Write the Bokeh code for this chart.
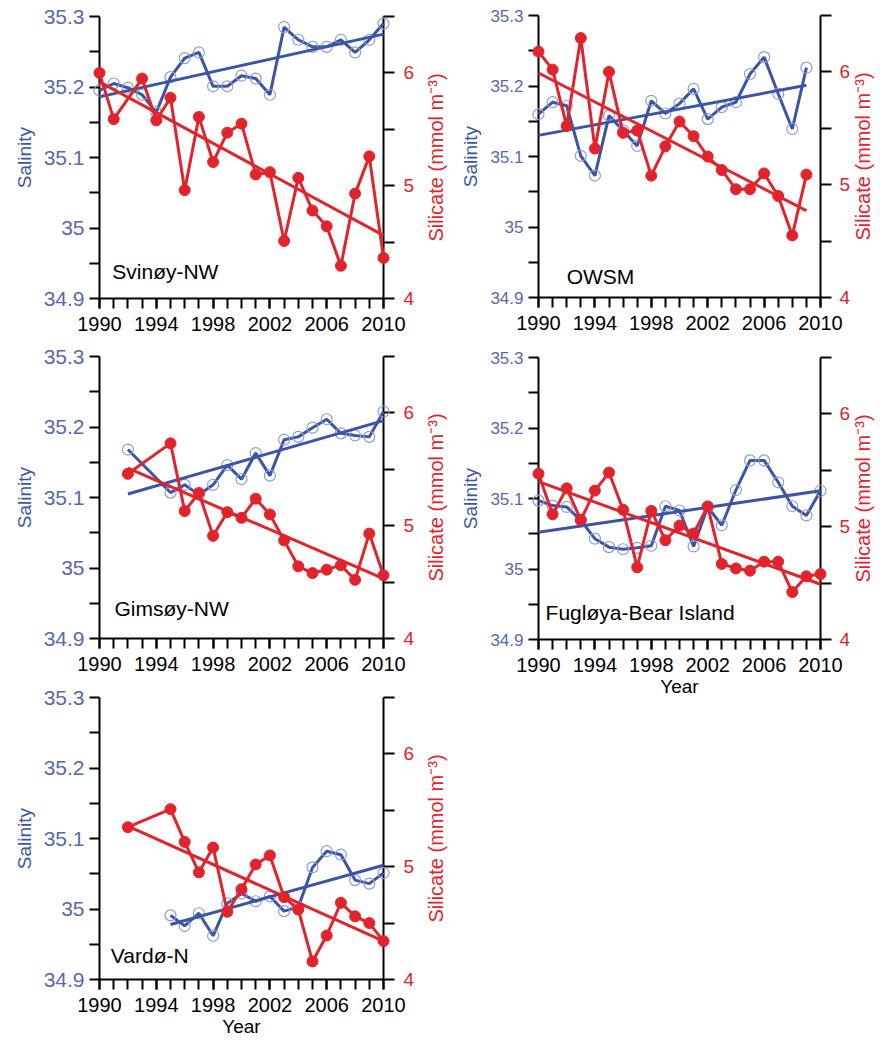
import math
from bokeh.plotting import figure
from bokeh.layouts import column, row
from bokeh.models import Range1d, LinearAxis, FixedTicker, NumeralTickFormatter, Label
from bokeh.core.properties import value
from bokeh.embed import file_html
from bokeh.resources import INLINE

# ---------------- data ----------------
svinoy_sal_years = list(range(1990, 2011))
svinoy_sal = [35.195, 35.205, 35.199, 35.189, 35.164, 35.214, 35.241, 35.249, 35.201, 35.201,
              35.216, 35.212, 35.189, 35.285, 35.267, 35.257, 35.257, 35.267, 35.249, 35.267, 35.290]
svinoy_si_years = [1990, 1991] + list(range(1993, 2011))
svinoy_si = [6.00, 5.59, 5.95, 5.58, 5.78, 4.96, 5.61, 5.21, 5.47, 5.55,
             5.10, 5.12, 4.51, 5.07, 4.78, 4.64, 4.29, 4.93, 5.26, 4.36]
svinoy_sal_trend_x = [1990, 2010]
svinoy_sal_trend = [35.186, 35.275]
svinoy_si_trend_x = [1990, 2010]
svinoy_si_trend = [5.92, 4.56]

owsm_sal_years = list(range(1990, 2010))
owsm_sal = [35.160, 35.177, 35.172, 35.101, 35.073, 35.158, 35.137, 35.115, 35.179, 35.161,
            35.175, 35.196, 35.153, 35.170, 35.177, 35.217, 35.241, 35.189, 35.139, 35.226]
owsm_si_years = list(range(1990, 2010))
owsm_si = [6.18, 6.02, 5.52, 6.30, 5.32, 6.00, 5.46, 5.48, 5.08, 5.34,
           5.56, 5.43, 5.25, 5.13, 4.96, 4.96, 5.10, 4.90, 4.55, 5.09]
owsm_sal_trend_x = [1990, 2009]
owsm_sal_trend = [35.130, 35.201]
owsm_si_trend_x = [1990, 2009]
owsm_si_trend = [5.99, 4.77]

gimsoy_sal_years = [1992] + list(range(1995, 2011))
gimsoy_sal = [35.168, 35.107, 35.118, 35.104, 35.118, 35.146, 35.126, 35.163, 35.131,
              35.182, 35.186, 35.199, 35.211, 35.191, 35.188, 35.186, 35.222]
gimsoy_si_years = [1992] + list(range(1995, 2011))
gimsoy_si = [5.46, 5.73, 5.13, 5.29, 4.91, 5.12, 5.07, 5.24, 5.10,
             4.87, 4.64, 4.58, 4.61, 4.65, 4.52, 4.93, 4.56]
gimsoy_sal_trend_x = [1992, 2010]
gimsoy_sal_trend = [35.105, 35.209]
gimsoy_si_trend_x = [1992, 2010]
gimsoy_si_trend = [5.51, 4.53]

fugloya_sal_years = list(range(1990, 2011))
fugloya_sal = [35.097, 35.090, 35.088, 35.069, 35.043, 35.031, 35.028, 35.030, 35.033, 35.089,
               35.083, 35.032, 35.088, 35.062, 35.112, 35.154, 35.154, 35.123, 35.089, 35.076, 35.111]
fugloya_si_years = list(range(1990, 2011))
fugloya_si = [5.47, 5.11, 5.34, 5.06, 5.32, 5.48, 5.15, 4.64, 5.14, 4.88,
              5.01, 4.94, 5.18, 4.67, 4.63, 4.61, 4.69, 4.69, 4.42, 4.56, 4.58]
fugloya_sal_trend_x = [1990, 2010]
fugloya_sal_trend = [35.052, 35.111]
fugloya_si_trend_x = [1990, 2010]
fugloya_si_trend = [5.40, 4.49]

vardo_sal_years = list(range(1995, 2011))
vardo_sal = [34.991, 34.976, 34.994, 34.962, 35.008, 35.022, 35.011, 35.018,
             34.997, 35.003, 35.059, 35.082, 35.077, 35.041, 35.036, 35.051]
vardo_si_years = [1992] + list(range(1995, 2011))
vardo_si = [5.35, 5.51, 5.22, 4.95, 5.17, 4.60, 4.80, 5.02, 5.10,
            4.73, 4.62, 4.16, 4.39, 4.68, 4.56, 4.50, 4.34]
vardo_sal_trend_x = [1995, 2010]
vardo_sal_trend = [34.978, 35.062]
vardo_si_trend_x = [1992, 2010]
vardo_si_trend = [5.36, 4.34]

station_names = ["Svinøy-NW", "OWSM", "Gimsøy-NW", "Fugløya-Bear Island", "Vardø-N"]
silicate_title = "Silicate (mmol m\u207b\u00b3)"

year_ticks = [1990, 1994, 1998, 2002, 2006, 2010]
year_minor = list(range(1990, 2011))
sal_ticks = [34.9, 35.0, 35.1, 35.2, 35.3]
sal_minor = [34.95, 35.05, 35.15, 35.25]
si_ticks = [4, 5, 6]
si_minor = [4.5, 5.5, 6.5]

# ---------------- style ----------------
BLUE = "#3b54a6"
BLUE_LIGHT = "#8e9cd2"
BLUE_TEXT = "#5868b0"
RED = "#e3232b"
FONT = "Liberation Sans"


def style_axis(ax, color_text, font_size, tick_out=10):
    ax.axis_line_width = 2
    ax.axis_line_color = "black"
    ax.major_tick_line_width = 2
    ax.minor_tick_line_width = 2
    ax.major_tick_line_color = "black"
    ax.minor_tick_line_color = "black"
    ax.major_tick_in = 0
    ax.minor_tick_in = 0
    ax.major_tick_out = tick_out
    ax.minor_tick_out = tick_out
    ax.major_label_text_font = FONT
    ax.major_label_text_font_size = font_size
    ax.major_label_text_color = color_text
    ax.axis_label_text_font = FONT
    ax.axis_label_text_font_style = "normal"


def make_panel(name, sal_x, sal_y, si_x, si_y, st_x, st_y, sit_x, sit_y,
               left, right, fw, top, bottom, left_font, year_label, name_x, name_y,
               right_standoff, title_x):
    p = figure(frame_width=fw, frame_height=282, output_backend="svg",
               toolbar_location=None, x_range=Range1d(1990, 2010),
               y_range=Range1d(34.9, 35.3),
               min_border_left=left, min_border_right=right,
               min_border_top=top, min_border_bottom=bottom)
    p.outline_line_color = None
    p.xgrid.visible = False
    p.ygrid.visible = False
    p.background_fill_color = "white"
    p.border_fill_color = "white"

    p.extra_y_ranges = {"si": Range1d(4, 6.5)}

    # left axis (salinity)
    ya = p.yaxis[0]
    ya.ticker = FixedTicker(ticks=sal_ticks, minor_ticks=sal_minor)
    ya.formatter = NumeralTickFormatter(format="0.[0]")
    style_axis(ya, BLUE_TEXT, left_font)
    ya.major_label_standoff = 5
    ya.axis_label = "Salinity"
    ya.axis_label_text_color = BLUE
    ya.axis_label_text_font_size = "19px"
    ya.axis_label_standoff = 6

    # bottom axis (year)
    xa = p.xaxis[0]
    xa.ticker = FixedTicker(ticks=year_ticks, minor_ticks=year_minor)
    style_axis(xa, "black", "20px")
    xa.major_label_standoff = 8
    if year_label:
        xa.axis_label = "Year"
        xa.axis_label_text_font_size = "19px"
        xa.axis_label_text_color = "black"
        xa.axis_label_standoff = 1

    # right axis (silicate)
    ra = LinearAxis(y_range_name="si",
                    ticker=FixedTicker(ticks=si_ticks, minor_ticks=si_minor))
    style_axis(ra, RED, "19px", tick_out=11)
    ra.major_label_standoff = right_standoff
    p.add_layout(ra, "right")
    # right axis title, reading bottom-to-top (drawn unclipped at overlay level)
    t = p.text(x=[title_x], y=[5.25], text=[silicate_title], y_range_name="si",
               angle=math.pi / 2, text_font=value(FONT), text_font_size="20px",
               text_color=RED, text_align="center", text_baseline="middle")
    t.level = "overlay"

    # salinity series
    r = p.line(sal_x, sal_y, line_color=BLUE, line_width=3)
    r.level = "overlay"
    r = p.scatter(sal_x, sal_y, marker="circle", size=11, fill_color=None,
                  line_color=BLUE_LIGHT, line_width=1.2)
    r.level = "overlay"
    r = p.line(st_x, st_y, line_color=BLUE, line_width=3)
    r.level = "overlay"

    # silicate series
    r = p.line(si_x, si_y, line_color=RED, line_width=3, y_range_name="si")
    r.level = "overlay"
    r = p.scatter(si_x, si_y, marker="circle", size=11, fill_color=RED,
                  line_color=RED, y_range_name="si")
    r.level = "overlay"
    r = p.line(sit_x, sit_y, line_color=RED, line_width=3, y_range_name="si")
    r.level = "overlay"

    p.add_layout(Label(x=name_x, y=name_y, text=name, text_font=FONT,
                       text_font_size="21px", text_color="black",
                       text_baseline="middle", text_align="left"))
    return p


# column 1: left border 99, frame 284, right 65 -> 448 wide
p1 = make_panel(station_names[0], svinoy_sal_years, svinoy_sal, svinoy_si_years, svinoy_si,
                svinoy_sal_trend_x, svinoy_sal_trend, svinoy_si_trend_x, svinoy_si_trend,
                99, 65, 284, 16, 47, "21px", False, 1990.9, 34.938, 9, 2013.7)
p3 = make_panel(station_names[2], gimsoy_sal_years, gimsoy_sal, gimsoy_si_years, gimsoy_si,
                gimsoy_sal_trend_x, gimsoy_sal_trend, gimsoy_si_trend_x, gimsoy_si_trend,
                99, 65, 284, 11, 48, "21px", False, 1991.05, 34.943, 9, 2013.7)
p5 = make_panel(station_names[4], vardo_sal_years, vardo_sal, vardo_si_years, vardo_si,
                vardo_sal_trend_x, vardo_sal_trend, vardo_si_trend_x, vardo_si_trend,
                99, 65, 284, 11, 64, "21px", True, 1990.8, 34.934, 9, 2013.7)
# column 2: left border 90, frame 282, right 56 -> 428 wide
p2 = make_panel(station_names[1], owsm_sal_years, owsm_sal, owsm_si_years, owsm_si,
                owsm_sal_trend_x, owsm_sal_trend, owsm_si_trend_x, owsm_si_trend,
                90, 56, 282, 15, 49, "17px", False, 1992.0, 34.930, 8, 2012.98)
p4 = make_panel(station_names[3], fugloya_sal_years, fugloya_sal, fugloya_si_years, fugloya_si,
                fugloya_sal_trend_x, fugloya_sal_trend, fugloya_si_trend_x, fugloya_si_trend,
                90, 56, 282, 11, 64, "17px", True, 1990.5, 34.938, 8, 2012.98)

layout = row(column(p1, p3, p5), column(p2, p4))

open("out.html", "w").write(file_html(layout, INLINE))
